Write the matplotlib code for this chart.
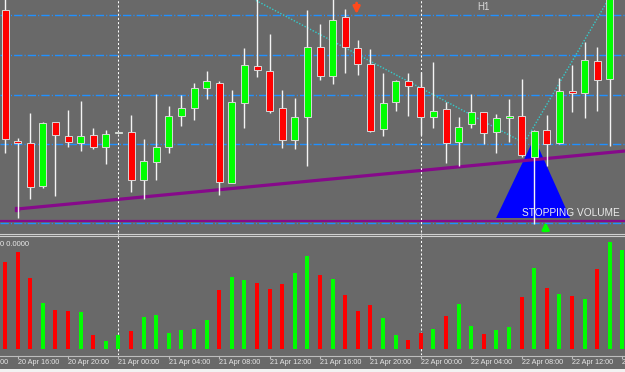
import numpy as np
import pandas as pd
import matplotlib
matplotlib.use("Agg")
import matplotlib.pyplot as plt
from matplotlib.patches import Rectangle
from matplotlib.lines import Line2D
from matplotlib import transforms

plt.rcParams['font.family'] = ['Liberation Sans', 'DejaVu Sans']
plt.rcParams['lines.scale_dashes'] = False

# ----------------- DATA (H1 candles, 20 Apr 15:00 -> 22 Apr 16:00) -----------------

opens = [1.0790, 1.0659, 1.0657, 1.0614, 1.0678, 1.0664, 1.0657, 1.0665, 1.0653, 1.0667,
         1.0668, 1.0620, 1.0638, 1.0653, 1.0684, 1.0692, 1.0712, 1.0717, 1.0617, 1.0697,
         1.0734, 1.0729, 1.0692, 1.0660, 1.0683, 1.0753, 1.0724, 1.0783, 1.0752, 1.0736,
         1.0671, 1.0698, 1.0719, 1.0713, 1.0683, 1.0691, 1.0658, 1.0676, 1.0688, 1.0668,
         1.0682, 1.0684, 1.0643, 1.0670, 1.0657, 1.0709, 1.0707, 1.0739, 1.0721, 1.0830]
highs = [1.0805, 1.0662, 1.0687, 1.0678, 1.0678, 1.0690, 1.0699, 1.0672, 1.0670, 1.0668,
         1.0685, 1.0661, 1.0706, 1.0694, 1.0705, 1.0717, 1.0729, 1.0719, 1.0710, 1.0752,
         1.0802, 1.0766, 1.0710, 1.0702, 1.0790, 1.0776, 1.0803, 1.0791, 1.0760, 1.0751,
         1.0727, 1.0720, 1.0727, 1.0728, 1.0738, 1.0698, 1.0683, 1.0706, 1.0688, 1.0686,
         1.0701, 1.0721, 1.0670, 1.0685, 1.0722, 1.0735, 1.0758, 1.0753, 1.0840, 1.0860]
lows = [1.0647, 1.0582, 1.0601, 1.0612, 1.0604, 1.0653, 1.0649, 1.0651, 1.0636, 1.0667,
        1.0608, 1.0601, 1.0620, 1.0647, 1.0674, 1.0680, 1.0701, 1.0605, 1.0617, 1.0672,
        1.0723, 1.0687, 1.0652, 1.0651, 1.0634, 1.0720, 1.0716, 1.0727, 1.0725, 1.0668,
        1.0664, 1.0689, 1.0684, 1.0665, 1.0672, 1.0637, 1.0634, 1.0672, 1.0656, 1.0647,
        1.0658, 1.0643, 1.0576, 1.0634, 1.0656, 1.0688, 1.0682, 1.0689, 1.0654, 1.0815]
closes = [1.0661, 1.0657, 1.0613, 1.0677, 1.0665, 1.0658, 1.0664, 1.0653, 1.0666, 1.0668,
          1.0620, 1.0639, 1.0653, 1.0684, 1.0692, 1.0712, 1.0719, 1.0618, 1.0698, 1.0735,
          1.0730, 1.0689, 1.0660, 1.0683, 1.0753, 1.0724, 1.0780, 1.0753, 1.0736, 1.0669,
          1.0697, 1.0719, 1.0714, 1.0683, 1.0689, 1.0657, 1.0673, 1.0688, 1.0667, 1.0682,
          1.0684, 1.0645, 1.0669, 1.0656, 1.0709, 1.0707, 1.0740, 1.0720, 1.0830, 1.0850]
volumes = [870, 970, 710, 460, 390, 380, 370, 140, 80, 140,
           180, 320, 340, 160, 190, 200, 290, 590, 720, 690,
           660, 600, 650, 760, 930, 740, 700, 540, 380, 440,
           310, 140, 90, 160, 200, 330, 450, 230, 150, 190,
           220, 520, 810, 610, 550, 530, 500, 800, 1070, 990]

h_levels = [1.0785, 1.0745, 1.0705, 1.0656, 1.0577]   # dash-dot blue lines
support_level = 1.0579
trend_x = [0.95, 49.2]
trend_y = [1.0591, 1.0649]
zigzag_x = [19.7, 41.2, 47.9]
zigzag_y = [1.0801, 1.0657, 1.0801]
start_time = pd.Timestamp("2015-04-20 15:00")

# ----------------- FIGURE -----------------

W, H = 625, 372
bg = "dimgray"
fig = plt.figure(figsize=(W / 100, H / 100), dpi=100, facecolor=bg)

ax = fig.add_axes([0, 1 - 232 / H, 1, 232 / H], facecolor=bg)
vax = fig.add_axes([0, 17 / H, 1, 118 / H], facecolor=bg, sharex=ax)
ax.set_xlim(-0.4, 49.2)
ax.set_ylim(1.0568, 1.0800)
vax.set_ylim(-60, 1120)
for a in (ax, vax):
    for s in a.spines.values():
        s.set_visible(False)
    a.set_yticks([])
ax.tick_params(bottom=False, labelbottom=False)

n = len(opens)
idx = np.arange(n)
up = np.array(closes) >= np.array(opens)

# horizontal objects
for lv in h_levels:
    ax.axhline(lv, color="#2090ff", lw=1.0, dashes=(6, 1.5, 0.8, 1.5), zorder=1)
ax.axhline(support_level, color="#86098a", lw=1.6, zorder=1.5)
ax.plot(trend_x, trend_y, color="#86098a", lw=2.3, zorder=1.5, solid_capstyle="butt")
ax.plot(trend_x[0], trend_y[0], marker="s", ms=3.5, color="#86098a", zorder=1.5)
ax.plot(zigzag_x, zigzag_y, color="#33cccc", lw=1, dashes=(1, 1.2), zorder=1.6)

# stopping volume triangle
ax.fill([38.97, 42.0, 44.84], [1.0582, 1.0662, 1.0582], color="#0000ff", zorder=1.2, lw=0)
ax.text(41.0, 1.0587, "STOPPING VOLUME", color="#ececec", fontsize=7.3,
        ha="left", va="center", zorder=2)

# candles
bw = 0.56
for i in idx:
    col = "#00ff00" if up[i] else "#ff0000"
    ax.vlines(i, lows[i], highs[i], color="#f4f4f4", lw=1, zorder=3)
    lo, hi = min(opens[i], closes[i]), max(opens[i], closes[i])
    ax.add_patch(Rectangle((i - bw / 2, lo), bw, max(hi - lo, 0.00012), facecolor=col,
                           edgecolor="#d8d8d8", lw=0.7, zorder=4))

# arrows
ax.annotate("", xy=(27.9, 1.0786), xytext=(27.9, 1.0797),
            arrowprops=dict(arrowstyle="-|>", color="#ff4a1c", lw=2.0, mutation_scale=10,
                            shrinkA=0, shrinkB=0),
            zorder=5)
ax.annotate("", xy=(42.9, 1.0578), xytext=(42.9, 1.0569),
            arrowprops=dict(arrowstyle="-|>", color="#00ff00", lw=2.0, mutation_scale=10,
                            shrinkA=0, shrinkB=0),
            zorder=5, annotation_clip=False)
ax.text(37.5, 1.0793, "H1", color="#d8d8d8", fontsize=7, ha="left", va="center")

# volume bars
vcols = ["#00ff00" if u else "#ff0000" for u in up]
vax.bar(idx, volumes, width=0.32, color=vcols, zorder=2)
fig.text(0.0, 1 - 244 / H, "0 0.0000", color="#e8e8e8", fontsize=5.5, ha="left", va="center")

# day separators
for d in (9, 33):
    ax.axvline(d, color="white", lw=0.75, dashes=(1.5, 1.5), zorder=2)
    vax.axvline(d, color="white", lw=0.75, dashes=(1.5, 1.5), zorder=1)
    fig.add_artist(Line2D([(d + 0.4) / 49.6] * 2, [1 - 237 / H, 1 - 232 / H],
                          color="white", lw=0.75, dashes=(1.5, 1.5)))

# panel separator and bottom axis
for yp in (233.5, 235.5):
    fig.add_artist(Line2D([0, 1], [1 - yp / H] * 2, color="#cfcfcf", lw=0.8))
fig.add_artist(Line2D([0, 1], [1 - 355.5 / H] * 2, color="#bdbdbd", lw=0.8))
fig.add_artist(Rectangle((0, 0), 1, 3.5 / H, transform=fig.transFigure,
                         facecolor="#f2f2f2", edgecolor="none"))

# time labels every 4 hours
trans = transforms.blended_transform_factory(vax.transData, fig.transFigure)
for i in range(-3, n):
    t = start_time + pd.Timedelta(hours=int(i))
    if t.hour % 4 == 0:
        vax.text(i, 1 - 363 / H, t.strftime("%d Apr %H:00"), transform=trans,
                 color="#e6e6e6", fontsize=5.2, ha="left", va="center", clip_on=False)
        vax.plot([i, i], [1 - 355.5 / H, 1 - 358 / H], transform=trans,
                 color="#bdbdbd", lw=0.8, clip_on=False)
vax.set_xticks([])

fig.savefig("out.png", dpi=100, facecolor=bg)
